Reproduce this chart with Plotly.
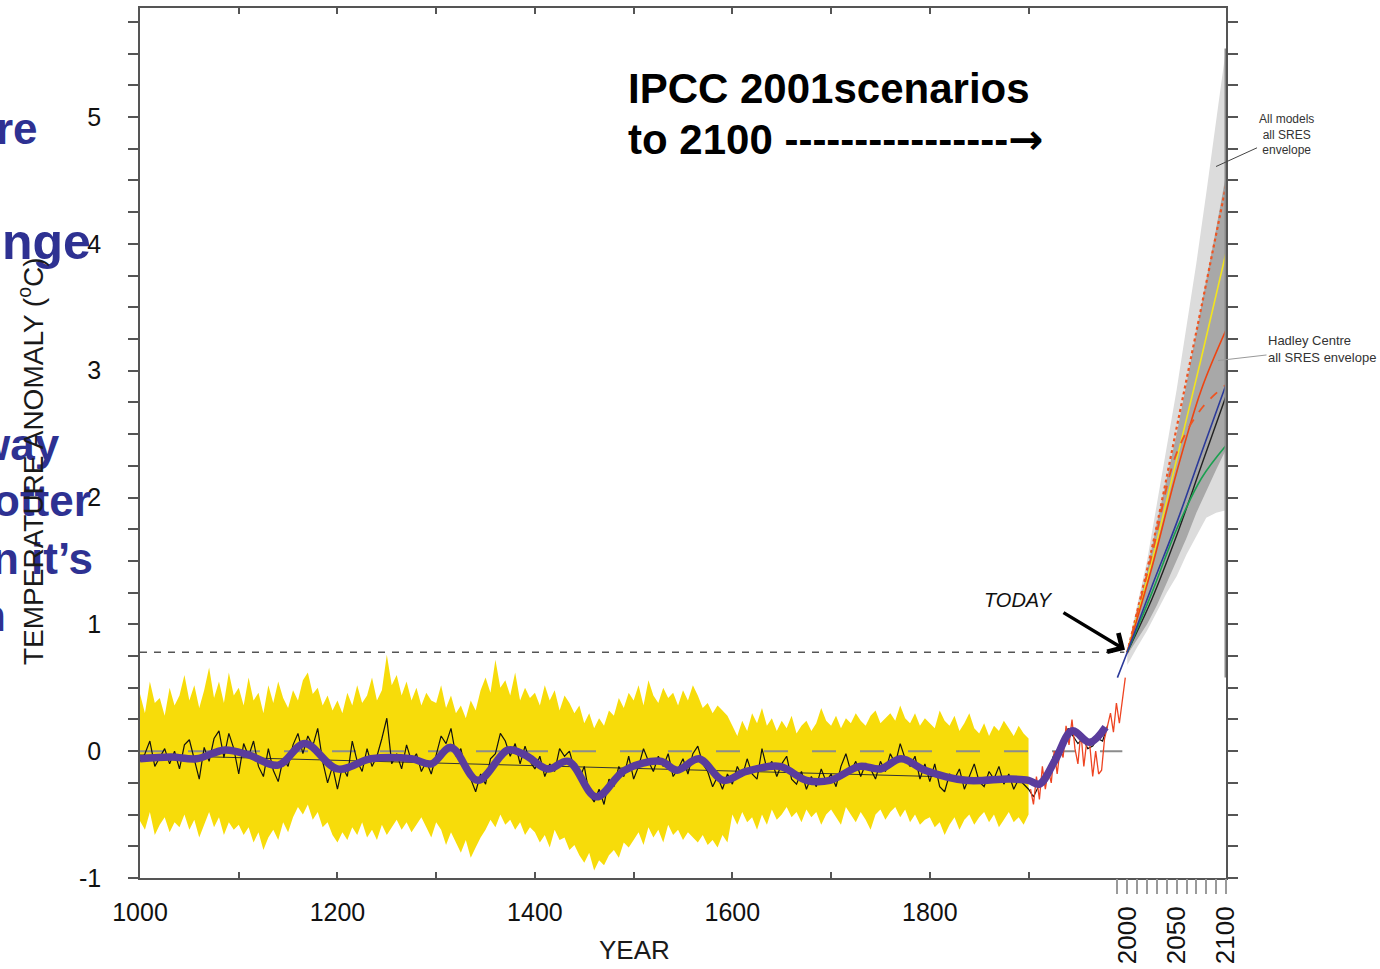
import plotly.graph_objects as go

# ---------------- canvas / frame geometry ----------------
W, H = 1380, 969
ML, MR, MT, MB = 140, 154, 8, 91
X_RANGE = [1000, 2100]
Y_RANGE = [-1, 5.86]

def pxx(px):
    return (px - ML) / (W - ML - MR)

def pxy(py):
    return (H - MB - py) / (H - MT - MB)

# ---------------- data ----------------
# Millennial reconstruction (5-year samples), deg C anomaly
recon_start, recon_step = 1000, 5
recon_vals = [
    -0.08, -0.02, 0.08, -0.12, -0.05, 0.02, -0.10, 0.00, -0.14, 0.05, 0.09, -0.06, -0.22, 0.03, -0.08, 0.10, 0.16, -0.05, 0.14, 0.02,
    -0.18, 0.06, -0.04, 0.08, -0.12, -0.20, 0.02, -0.15, -0.24, -0.06, -0.12, 0.05, 0.14, -0.02, 0.12, 0.04, 0.18, -0.08, -0.25, -0.12,
    -0.30, -0.12, -0.20, 0.08, -0.08, -0.16, 0.02, -0.12, -0.04, 0.10, 0.26, -0.10, -0.02, -0.14, 0.05, -0.08, -0.02, -0.16, -0.08, -0.18,
    -0.02, 0.12, 0.06, 0.18, -0.04, 0.02, -0.16, -0.22, -0.32, -0.18, -0.26, -0.06, -0.02, 0.14, 0.08, -0.04, 0.06, -0.10, 0.04, -0.08,
    -0.14, -0.04, -0.20, -0.10, -0.16, 0.02, -0.04, 0.00, -0.14, -0.22, -0.12, -0.34, -0.40, -0.30, -0.42, -0.22, -0.28, -0.12, -0.20, -0.04,
    -0.22, -0.12, 0.02, -0.08, -0.16, -0.04, -0.12, -0.02, -0.20, -0.14, -0.06, -0.18, -0.02, 0.04, -0.10, -0.16, -0.28, -0.20, -0.30, -0.18,
    -0.26, -0.12, -0.20, -0.06, -0.18, -0.22, 0.02, -0.14, -0.08, -0.20, -0.10, -0.04, -0.22, -0.26, -0.16, -0.30, -0.20, -0.28, -0.14, -0.24,
    -0.18, -0.28, -0.12, -0.02, -0.16, -0.08, -0.20, -0.10, -0.14, -0.22, -0.08, -0.16, -0.02, -0.10, 0.06, -0.06, -0.12, -0.04, -0.22, -0.10,
    -0.24, -0.10, -0.28, -0.32, -0.18, -0.22, -0.14, -0.30, -0.20, -0.10, -0.24, -0.28, -0.16, -0.22, -0.12, -0.26, -0.18, -0.30, -0.22, -0.26,
    -0.30, -0.36, -0.28, -0.20, -0.18, -0.04, 0.02, 0.08, 0.18, 0.12, 0.06, 0.10, 0.02, 0.04, 0.10, 0.08, 0.20,
]
recon_years = [recon_start + recon_step * i for i in range(len(recon_vals))]

# Uncertainty band (upper / lower edges, 5-year samples)
band_upper = [
    0.45, 0.30, 0.55, 0.38, 0.42, 0.28, 0.50, 0.36, 0.44, 0.60, 0.40, 0.52, 0.34, 0.48, 0.66, 0.42, 0.55, 0.38, 0.62, 0.44,
    0.50, 0.36, 0.58, 0.40, 0.46, 0.30, 0.52, 0.38, 0.55, 0.42, 0.34, 0.48, 0.40, 0.56, 0.62, 0.45, 0.50, 0.36, 0.44, 0.32,
    0.40, 0.30, 0.46, 0.36, 0.52, 0.38, 0.44, 0.58, 0.40, 0.48, 0.76, 0.52, 0.60, 0.44, 0.55, 0.40, 0.50, 0.36, 0.46, 0.40,
    0.38, 0.52, 0.34, 0.44, 0.30, 0.36, 0.26, 0.40, 0.32, 0.48, 0.58, 0.46, 0.72, 0.50, 0.56, 0.44, 0.62, 0.40, 0.50, 0.42,
    0.46, 0.36, 0.52, 0.40, 0.48, 0.32, 0.44, 0.38, 0.30, 0.36, 0.22, 0.30, 0.18, 0.26, 0.20, 0.32, 0.28, 0.42, 0.34, 0.46,
    0.40, 0.52, 0.36, 0.56, 0.44, 0.38, 0.50, 0.42, 0.46, 0.36, 0.48, 0.40, 0.52, 0.44, 0.34, 0.38, 0.30, 0.36, 0.32, 0.28,
    0.20, 0.12, 0.24, 0.16, 0.30, 0.22, 0.34, 0.20, 0.26, 0.16, 0.24, 0.18, 0.28, 0.14, 0.20, 0.24, 0.16, 0.22, 0.34, 0.24,
    0.20, 0.28, 0.18, 0.26, 0.22, 0.30, 0.24, 0.20, 0.28, 0.32, 0.22, 0.26, 0.30, 0.24, 0.36, 0.26, 0.22, 0.30, 0.20, 0.26,
    0.22, 0.18, 0.32, 0.24, 0.20, 0.28, 0.16, 0.22, 0.30, 0.18, 0.14, 0.22, 0.12, 0.20, 0.16, 0.24, 0.18, 0.12, 0.20, 0.14, 0.10,
]
band_lower = [
    -0.55, -0.62, -0.48, -0.66, -0.58, -0.52, -0.64, -0.56, -0.60, -0.50, -0.62, -0.54, -0.68, -0.58, -0.48, -0.60, -0.52, -0.66, -0.56, -0.62,
    -0.58, -0.66, -0.60, -0.72, -0.64, -0.78, -0.68, -0.62, -0.70, -0.56, -0.64, -0.52, -0.44, -0.50, -0.42, -0.54, -0.48, -0.60, -0.56, -0.66,
    -0.72, -0.64, -0.70, -0.60, -0.66, -0.56, -0.68, -0.62, -0.70, -0.58, -0.66, -0.60, -0.54, -0.62, -0.56, -0.64, -0.58, -0.52, -0.60, -0.68,
    -0.56, -0.62, -0.74, -0.64, -0.72, -0.80, -0.70, -0.84, -0.76, -0.68, -0.62, -0.54, -0.60, -0.50, -0.58, -0.54, -0.62, -0.56, -0.66, -0.60,
    -0.64, -0.72, -0.66, -0.76, -0.62, -0.70, -0.68, -0.78, -0.74, -0.82, -0.88, -0.80, -0.94, -0.86, -0.90, -0.82, -0.78, -0.84, -0.72, -0.76,
    -0.70, -0.64, -0.74, -0.60, -0.68, -0.62, -0.72, -0.58, -0.66, -0.62, -0.70, -0.64, -0.68, -0.72, -0.66, -0.74, -0.70, -0.76, -0.66, -0.72,
    -0.50, -0.58, -0.48, -0.56, -0.52, -0.62, -0.50, -0.58, -0.46, -0.54, -0.50, -0.44, -0.52, -0.48, -0.56, -0.46, -0.52, -0.48, -0.58, -0.50,
    -0.46, -0.52, -0.58, -0.44, -0.50, -0.56, -0.48, -0.54, -0.62, -0.50, -0.46, -0.54, -0.48, -0.44, -0.52, -0.46, -0.56, -0.50, -0.58, -0.54,
    -0.52, -0.60, -0.56, -0.66, -0.58, -0.52, -0.62, -0.54, -0.50, -0.58, -0.52, -0.48, -0.56, -0.50, -0.60, -0.54, -0.48, -0.56, -0.52, -0.58, -0.50,
]
band_years = [1000 + 5 * i for i in range(min(len(band_upper), len(band_lower)))]

# 40-year smoothed reconstruction
smooth_years = [1000, 1032, 1057, 1086, 1110, 1140, 1167, 1200, 1234, 1275, 1295, 1315, 1342, 1373, 1390,
                1413, 1434, 1462, 1491, 1527, 1544, 1566, 1591, 1614, 1648, 1675, 1699, 1729, 1750, 1771,
                1795, 1836, 1880, 1900, 1911, 1927, 1944, 1962, 1978]
smooth_vals = [-0.06, -0.045, -0.06, 0.01, -0.03, -0.11, 0.06, -0.14, -0.06, -0.06, -0.10, 0.03, -0.23, 0.01, -0.03,
               -0.14, -0.08, -0.36, -0.15, -0.08, -0.15, -0.06, -0.23, -0.16, -0.12, -0.23, -0.23, -0.12, -0.14, -0.06,
               -0.15, -0.23, -0.22, -0.23, -0.26, -0.07, 0.16, 0.07, 0.19]

# Instrumental record
instr_years = list(range(1902, 1999, 3))
instr_vals = [-0.30, -0.42, -0.20, -0.38, -0.12, -0.30, -0.15, -0.25, 0.00, -0.18, 0.02, -0.05, 0.20, 0.05, 0.25, 0.02,
              -0.10, 0.15, -0.12, 0.08, 0.05, -0.20, 0.00, -0.18, -0.15, 0.10, 0.20, 0.30, 0.15, 0.38, 0.22, 0.40, 0.58]

# Linear trend and reference levels
trend_years = [1000, 1900]
trend_vals = [-0.03, -0.22]
zero_years = [1000, 1995]
zero_vals = [0, 0]
today_years = [1000, 1997]
today_vals = [0.78, 0.78]

# Projections to 2100
env_years = [2000, 2010, 2020, 2030, 2040, 2050, 2060, 2070, 2080, 2090, 2100]
all_upper = [0.80, 1.15, 1.50, 1.95, 2.40, 2.85, 3.35, 3.85, 4.40, 4.95, 5.54]
all_lower = [0.68, 0.82, 0.95, 1.10, 1.25, 1.38, 1.55, 1.70, 1.84, 1.88, 1.90]
had_upper = [0.78, 1.10, 1.42, 1.80, 2.15, 2.50, 2.90, 3.30, 3.72, 4.12, 4.55]
had_lower = [0.76, 0.88, 1.00, 1.15, 1.32, 1.50, 1.68, 1.88, 2.05, 2.22, 2.38]

scen_years = [2000, 2025, 2050, 2075, 2100]
scen_A1FI = [0.78, 1.60, 2.55, 3.50, 4.46]
scen_A1T = [0.78, 1.50, 2.30, 3.10, 3.93]
scen_A2 = [0.78, 1.45, 2.20, 2.85, 3.32]
scen_A1B = [0.78, 1.55, 2.35, 2.70, 2.89]
scen_B2_years = [1990, 2000, 2025, 2050, 2075, 2100]
scen_B2 = [0.58, 0.78, 1.30, 1.80, 2.35, 2.89]
scen_IS92a = [0.78, 1.20, 1.70, 2.25, 2.80]
scen_B1 = [0.78, 1.25, 1.75, 2.15, 2.41]

range_bar_years = [2100, 2100]
range_bar_vals = [0.58, 5.54]

# Axis tick labels
x_major_ticks = list(range(1000, 2000, 100))
x_major_text = ["1000", "", "1200", "", "1400", "", "1600", "", "1800", ""]
x_future_ticks = list(range(1990, 2101, 10))
x_future_text = ["", "2000", "", "", "", "", "2050", "", "", "", "", "2100"]
y_ticks = [-1 + 0.25 * i for i in range(28)]
y_text = [str(int(v)) if float(v).is_integer() else "" for v in y_ticks]

FONT = "Liberation Sans, Arial, Helvetica, sans-serif"

fig = go.Figure()

def band(xs, up, lo, color):
    fig.add_trace(go.Scatter(x=xs + xs[::-1], y=up + lo[::-1], fill="toself", fillcolor=color,
                             line=dict(width=0, color=color), mode="lines", hoverinfo="skip", showlegend=False))

band(env_years, all_upper, all_lower, "#dcdcdc")
band(env_years, had_upper, had_lower, "#a8a8a8")
band(band_years, band_upper[:len(band_years)], band_lower[:len(band_years)], "#f7dc0a")

def line(xs, ys, color, width, dash="solid", shape="linear", **kw):
    fig.add_trace(go.Scatter(x=xs, y=ys, mode="lines", line=dict(color=color, width=width, dash=dash, shape=shape),
                             hoverinfo="skip", showlegend=False, **kw))

line(zero_years, zero_vals, "#8c8c8c", 2, dash="24px,24px")
line(trend_years, trend_vals, "#333333", 1)
line(today_years, today_vals, "#555555", 1.5, dash="7px,7px")
line(recon_years, recon_vals, "#111111", 1.2)
line(instr_years, instr_vals, "#ee4422", 1.3)
line(smooth_years, smooth_vals, "#5a3c9c", 7.5, shape="spline")

line(scen_years, scen_A1FI, "#ee5522", 2.2, dash="dot", shape="spline")
line(scen_years, scen_A1T, "#f2e41e", 1.6, shape="spline")
line(scen_years, scen_A2, "#ee4411", 1.6, shape="spline")
line(scen_years, scen_A1B, "#ee5522", 1.8, dash="dash", shape="spline")
line(scen_years, scen_IS92a, "#222222", 1.4, shape="spline")
line(scen_years, scen_B1, "#1aa050", 1.6, shape="spline")
line(scen_B2_years, scen_B2, "#2b3a9a", 1.6, shape="spline")
line(range_bar_years, range_bar_vals, "#8a8a8a", 3)

# invisible trace to activate the secondary (future-years) x axis
fig.add_trace(go.Scatter(x=[2000], y=[0], xaxis="x2", mode="markers", marker=dict(opacity=0),
                         hoverinfo="skip", showlegend=False))

annotations = []
# cut-off slide text at the far left
blue_lines = [("re", 40, 128, 44), ("nge", 93, 242, 50), ("way", 62, 445, 44),
              ("otter", 93, 500, 44), ("n it’s", 95, 558, 44), ("n", 8, 615, 44)]
for txt, rx, cy, fs in blue_lines:
    annotations.append(dict(text=txt, xref="paper", yref="paper", x=pxx(rx), y=pxy(cy), xanchor="right", yanchor="middle",
                            showarrow=False, font=dict(family=FONT, size=fs, color="#2e3192", weight="bold")))
# axis titles
annotations.append(dict(text="TEMPERATURE ANOMALY (<sup>o</sup>C)", xref="paper", yref="paper", x=pxx(31), y=pxy(461),
                        textangle=-90, showarrow=False, xanchor="center", yanchor="middle",
                        font=dict(family=FONT, size=28, color="#1a1a1a")))
annotations.append(dict(text="YEAR", xref="paper", yref="paper", x=pxx(634), y=pxy(950), showarrow=False,
                        xanchor="center", yanchor="middle", font=dict(family=FONT, size=26, color="#1a1a1a")))
# headline
annotations.append(dict(text="IPCC 2001scenarios", xref="paper", yref="paper", x=pxx(626), y=pxy(88), showarrow=False,
                        xanchor="left", yanchor="middle", font=dict(family=FONT, size=42, color="#000000", weight="bold")))
annotations.append(dict(text="to 2100 ----------------<span style='font-family:DejaVu Sans'>→</span>",
                        xref="paper", yref="paper", x=pxx(626), y=pxy(140),
                        showarrow=False, xanchor="left", yanchor="middle",
                        font=dict(family=FONT, size=42, color="#000000", weight="bold")))
# TODAY
annotations.append(dict(text="<i>TODAY</i>", xref="paper", yref="paper", x=pxx(1018), y=pxy(600), showarrow=False,
                        xanchor="center", yanchor="middle", font=dict(family=FONT, size=20, color="#111111")))
annotations.append(dict(text="", x=1997.7, y=0.80, xref="x", yref="y", showarrow=True, ax=-63, ay=-38,
                        arrowhead=4, arrowsize=1.2, arrowwidth=3.5, arrowcolor="#000000"))
# envelope labels
annotations.append(dict(text="All models<br>all SRES<br>envelope", x=2089.9, y=4.61, xref="x", yref="y",
                        showarrow=True, ax=70, ay=-32, arrowhead=0, arrowwidth=1, arrowcolor="#444444",
                        align="center", font=dict(family=FONT, size=12, color="#333333")))
annotations.append(dict(text="Hadley Centre<br>all SRES envelope", x=2091.9, y=3.08, xref="x", yref="y",
                        showarrow=True, ax=104, ay=-12, arrowhead=0, arrowwidth=1, arrowcolor="#999999",
                        align="left", font=dict(family=FONT, size=13, color="#333333")))

fig.update_layout(
    width=W, height=H, autosize=False,
    margin=dict(l=ML, r=MR, t=MT, b=MB, pad=0, autoexpand=False),
    paper_bgcolor="white", plot_bgcolor="white",
    showlegend=False,
    annotations=annotations,
    xaxis=dict(range=X_RANGE, tickmode="array", tickvals=x_major_ticks, ticktext=x_major_text,
               ticks="inside", ticklen=6, tickwidth=1.5, tickcolor="#555555", mirror="ticks",
               showline=True, linecolor="#555555", linewidth=1.5, showgrid=False, zeroline=False,
               automargin=False,
               tickfont=dict(family=FONT, size=25, color="#111111"), ticklabelstandoff=11),
    xaxis2=dict(range=X_RANGE, overlaying="x", anchor="free", position=0, side="bottom",
                tickmode="array", tickvals=x_future_ticks, ticktext=x_future_text, tickangle=-90,
                ticks="outside", ticklen=15, tickwidth=1.5, tickcolor="#9a9a9a", showline=False,
                showgrid=False, zeroline=False, automargin=False,
                tickfont=dict(family=FONT, size=26, color="#111111"), ticklabelstandoff=2),
    yaxis=dict(range=Y_RANGE, tickmode="array", tickvals=y_ticks, ticktext=y_text,
               ticks="outside", ticklen=10, tickwidth=1.5, tickcolor="#555555", mirror="ticks",
               showline=True, linecolor="#555555", linewidth=1.5, showgrid=False, zeroline=False,
               automargin=False,
               tickfont=dict(family=FONT, size=25, color="#111111"), ticklabelstandoff=22),
)

fig.write_html("out.html")
